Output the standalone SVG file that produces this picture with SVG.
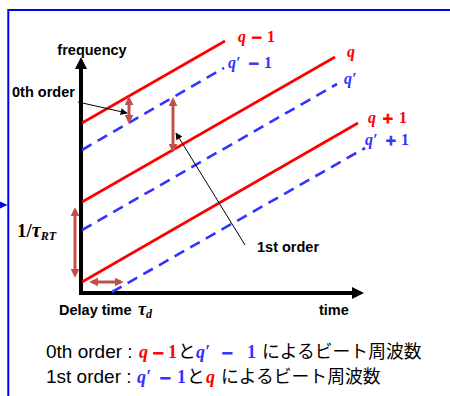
<svg xmlns="http://www.w3.org/2000/svg" width="450" height="396" viewBox="0 0 450 396">
<style>
.lbl{font-family:"Liberation Sans",Arial,sans-serif;font-weight:bold;font-size:14.5px;fill:#000}
.txt{font-family:"Liberation Sans",Arial,sans-serif;font-size:19px;fill:#000}
.jp{font-family:"Noto Sans CJK JP",sans-serif;font-size:17.8px;fill:#000}
.mq{font-family:"Liberation Serif",serif;font-weight:bold;font-style:italic}
.mn{font-family:"Liberation Serif",serif;font-weight:bold}
.op{font-family:"DejaVu Sans",sans-serif;font-weight:bold;stroke-width:0.8}
.r{fill:#FF0000}
.b{fill:#3333FF}
.op.r{stroke:#FF0000}
.op.b{stroke:#3333FF}
.k{fill:#000}
.red{stroke:#FF0000;stroke-width:2.6;fill:none}
.blue{stroke:#3333FF;stroke-width:2.6;fill:none;stroke-dasharray:11 7}
.ba{stroke:#C0504D;stroke-width:3;fill:none;marker-start:url(#ah);marker-end:url(#ah)}
.pa{stroke:#000;stroke-width:1;fill:none;marker-end:url(#pk)}
</style>
<defs>
<marker id="ah" viewBox="0 0 10 10" refX="7" refY="5" markerWidth="9" markerHeight="9" markerUnits="userSpaceOnUse" orient="auto-start-reverse"><path d="M0,0 L10,5 L0,10 z" fill="#C0504D"/></marker>
<marker id="pk" viewBox="0 0 10 10" refX="9" refY="5" markerWidth="9" markerHeight="7" markerUnits="userSpaceOnUse" orient="auto"><path d="M0,0 L10,5 L0,10 z" fill="#000"/></marker>
</defs>
<rect width="450" height="396" fill="#fff"/>
<g id="frame">
<rect x="8.3" y="10" width="460" height="400" fill="none" stroke="#0000FF" stroke-width="2"/>
<polygon points="0,201.5 7.5,205 0,208.5" fill="#0000FF"/>
</g>
<g id="axes">
<path d="M81,66 L81,293 L354,293" fill="none" stroke="#000" stroke-width="4" stroke-linejoin="miter"/>
<polygon points="81,57 75,69 87,69" fill="#000"/>
<polygon points="364,293 352,287 352,299" fill="#000"/>
</g>
<g id="modes">
<line class="red" x1="82" y1="123" x2="225" y2="41"/>
<line class="red" x1="82" y1="202" x2="335" y2="57"/>
<line class="red" x1="82" y1="282" x2="358" y2="123"/>
<line class="blue" x1="82" y1="150" x2="224" y2="68"/>
<line class="blue" x1="82" y1="230" x2="337" y2="84"/>
<line class="blue" x1="112" y1="292" x2="365" y2="148"/>
</g>
<g id="connectors">
<line class="ba" x1="129" y1="99" x2="129" y2="121"/>
<line class="ba" x1="173" y1="100" x2="173" y2="150"/>
<line class="ba" x1="75" y1="210" x2="75" y2="275"/>
<line class="ba" x1="92" y1="282" x2="121" y2="282"/>
<line class="pa" x1="78" y1="102" x2="127" y2="113"/>
<line class="pa" x1="245" y1="245" x2="176" y2="133"/>
</g>
<g id="axis-labels">
<text class="lbl" x="92" y="55" text-anchor="middle">frequency</text>
<text class="lbl" x="12" y="97">0th order</text>
<text class="lbl" x="257" y="252">1st order</text>
<text class="lbl" x="319" y="315">time</text>
<text class="lbl" x="59" y="315">Delay time</text>
<text class="mq k" x="138" y="315" font-size="18">τ<tspan font-size="12" dy="3">d</tspan></text>
<text class="mn k" x="17" y="237" font-size="19">1/<tspan class="mq" font-size="20">τ</tspan><tspan class="mq" font-size="12" dy="3">RT</tspan></text>
</g>
<g id="mode-labels" font-size="16">
<text class="mq r" x="238" y="42">q</text><text class="op r" x="251" y="42" font-size="14">−</text><text class="mn r" x="267" y="42">1</text>
<text class="mq b" x="228" y="68">q′</text><text class="op b" x="248" y="68" font-size="14">−</text><text class="mn b" x="264" y="68">1</text>
<text class="mq r" x="347" y="57">q</text>
<text class="mq b" x="344" y="84">q′</text>
<text class="mq r" x="368" y="123">q</text><text class="op r" x="382" y="123" font-size="14">+</text><text class="mn r" x="399" y="123">1</text>
<text class="mq b" x="365" y="145">q′</text><text class="op b" x="385" y="145" font-size="14">+</text><text class="mn b" x="401" y="145">1</text>
</g>
<g id="legend">
<text class="txt" x="46" y="358">0th order :</text>
<text class="mq r" x="139" y="358" font-size="18">q</text><text class="op r" x="152" y="358" font-size="15">−</text><text class="mn r" x="168" y="358" font-size="18">1</text>
<text class="jp" x="178" y="358">と</text>
<text class="mq b" x="196" y="358" font-size="18">q′</text><text class="op b" x="221" y="358" font-size="15">−</text><text class="mn b" x="247" y="358" font-size="18">1</text>
<text class="jp" x="262" y="358">によるビート周波数</text>
<text class="txt" x="46" y="383">1st order :</text>
<text class="mq b" x="137" y="383" font-size="18">q′</text><text class="op b" x="159" y="383" font-size="15">−</text><text class="mn b" x="177" y="383" font-size="18">1</text>
<text class="jp" x="187" y="383">と</text>
<text class="mq r" x="206" y="383" font-size="18">q</text>
<text class="jp" x="221" y="383">によるビート周波数</text>
</g>
</svg>
